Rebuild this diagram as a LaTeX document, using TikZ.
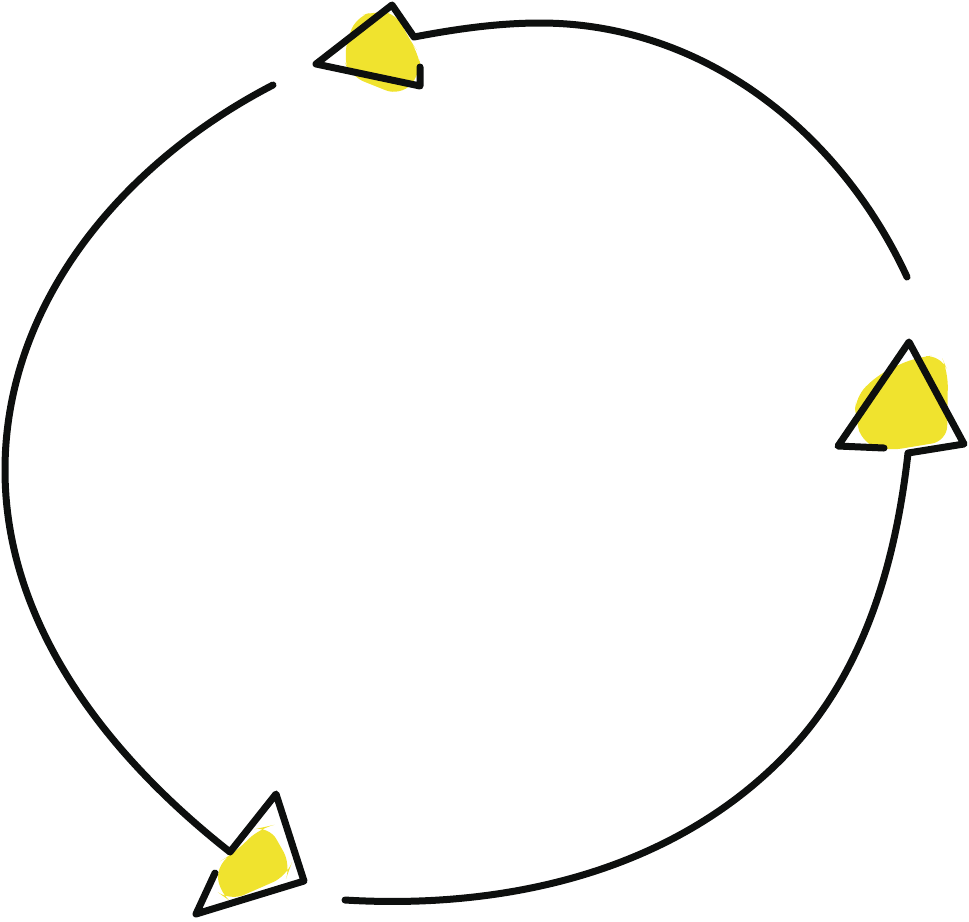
\documentclass[tikz,border=0pt]{standalone}
\definecolor{cycyellow}{RGB}{240,227,46}
\definecolor{cycink}{RGB}{13,15,14}
\tikzset{
  cycline/.style={draw=cycink, line width=0.14cm, line cap=round, line join=round},
  cycblob/.style={fill=cycyellow, rounded corners=0.3cm}
}
\begin{document}
\begin{tikzpicture}[x=0.02cm, y=-0.02cm]
  \useasboundingbox (0,0) rectangle (969,921);

  %% Yellow blobs
  \fill[cycblob] (355,17) -- (377,11) -- (397,13) -- (408,38) -- (419,53) -- (421,74) -- (400,96) -- (350,76) -- (343,57) -- cycle;
  \fill[cycblob] (855,397) -- (880,373) -- (917,357) -- (941,355) -- (948,372) -- (947,441) -- (887,451) -- (863,444) -- (855,417) -- cycle;
  \fill[cycblob] (217,863) -- (233,854) -- (260,828) -- (269,826) -- (291,865) -- (287,876) -- (230,901) -- (219,893) -- cycle;

  %% Arc ends and arrow tips
  \coordinate (topstart) at (907,277);
  \coordinate (topmid)   at (540,23);
  \coordinate (topend)   at (414,37);
  \coordinate (tiptop)   at (392,5);
  \coordinate (leftstart) at (273,85);
  \coordinate (leftmid)   at (5,470);
  \coordinate (leftend)   at (230,852);
  \coordinate (tipbot)    at (276,794);
  \coordinate (rightstart) at (345,900);
  \coordinate (rightmid)   at (793,747);
  \coordinate (rightend)   at (908,453);
  \coordinate (tipright)   at (909,342);

  %% Top arc
  \draw[cycline] (topstart) .. controls (839,130) and (702,23) .. (topmid)
    .. controls (498,23) and (456,29) .. (topend)
    -- (tiptop) -- (316,64) -- (420,86) -- (420,67);

  %% Left arc
  \draw[cycline] (leftstart) .. controls (124,162) and (5,302) .. (leftmid)
    .. controls (5,625) and (108,756) .. (leftend)
    -- (tipbot) -- (304,881) -- (196,914) -- (215,873);

  %% Right arc
  \draw[cycline] (rightstart) .. controls (511,910) and (681,869) .. (rightmid)
    .. controls (866,667) and (896,560) .. (rightend)
    -- (964,444) -- (tipright) -- (838,446) -- (884,448);
\end{tikzpicture}
\end{document}
